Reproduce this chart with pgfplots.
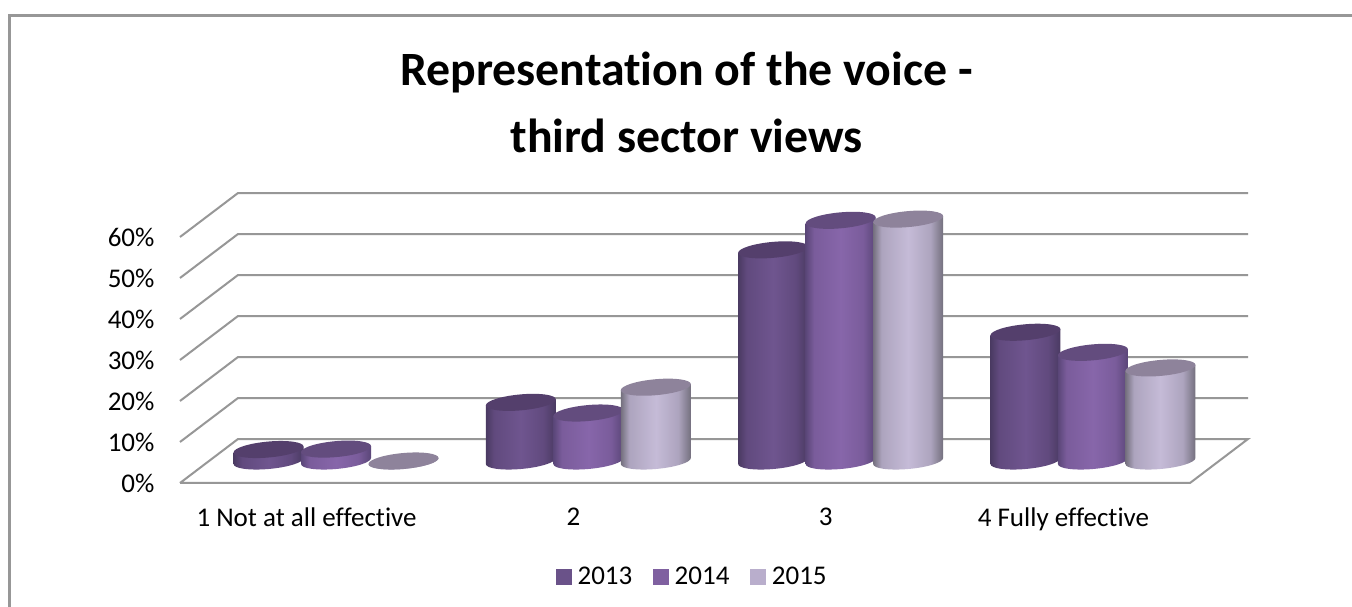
\documentclass[border=0pt]{standalone}
\usepackage{fontspec}
\setmainfont[Ligatures=NoCommon]{Carlito}
\usepackage{pgfplots}
\usepackage{pgfplotstable}
\pgfplotsset{compat=1.18}

\definecolor{cylAe}{HTML}{4A3A62}\definecolor{cylAs}{HTML}{614A7E}\definecolor{cylAm}{HTML}{6F558F}\definecolor{capA}{HTML}{543F6C}
\definecolor{cylBe}{HTML}{5A4678}\definecolor{cylBs}{HTML}{7A5C9B}\definecolor{cylBm}{HTML}{8766AA}\definecolor{capB}{HTML}{634C7E}
\definecolor{cylCe}{HTML}{74707E}\definecolor{cylCs}{HTML}{ADA4BE}\definecolor{cylCm}{HTML}{C5BBD7}\definecolor{capC}{HTML}{8E839B}
\definecolor{keyA}{HTML}{6A5289}\definecolor{keyB}{HTML}{7F60A0}\definecolor{keyC}{HTML}{B9AECC}
\definecolor{gridgrey}{HTML}{979797}

% body shadings: the path's bounding box occupies 25bp to 75bp
\pgfdeclarehorizontalshading{cylA}{100bp}{color(0bp)=(cylAe); color(25bp)=(cylAe); color(31bp)=(cylAs); color(50bp)=(cylAm); color(66bp)=(cylAs); color(75bp)=(cylAe); color(100bp)=(cylAe)}
\pgfdeclarehorizontalshading{cylB}{100bp}{color(0bp)=(cylBe); color(25bp)=(cylBe); color(31bp)=(cylBs); color(50bp)=(cylBm); color(66bp)=(cylBs); color(75bp)=(cylBe); color(100bp)=(cylBe)}
\pgfdeclarehorizontalshading{cylC}{100bp}{color(0bp)=(cylCe); color(25bp)=(cylCe); color(31bp)=(cylCs); color(50bp)=(cylCm); color(66bp)=(cylCs); color(75bp)=(cylCe); color(100bp)=(cylCe)}

% one cylinder, drawn from its top centre down to the floor
\newcommand{\cylinder}[2]{%
  \pgfmathsetmacro{\cylh}{\barval*4.1}%
  \shade[shading=#1, draw=none]
    (-35pt,-3pt-\cylh pt)
    .. controls (-35pt,-7.42pt-\cylh pt) and (-19.33pt,-9.66pt-\cylh pt) .. (0pt,-8pt-\cylh pt)
    .. controls (19.33pt,-6.34pt-\cylh pt) and (35pt,-1.42pt-\cylh pt) .. (35pt,3pt-\cylh pt)
    -- (35pt,3pt) -- (-35pt,-3pt) -- cycle;
  \fill[#2, draw=none]
    (-35pt,-3pt)
    .. controls (-35pt,-7.42pt) and (-19.33pt,-9.66pt) .. (0pt,-8pt)
    .. controls (19.33pt,-6.34pt) and (35pt,-1.42pt) .. (35pt,3pt)
    .. controls (35pt,7.42pt) and (19.33pt,9.66pt) .. (0pt,8pt)
    .. controls (-19.33pt,6.34pt) and (-35pt,1.42pt) .. (-35pt,-3pt) -- cycle;
}
\pgfdeclareplotmark{blank}{}

\pgfplotstableread{
x      share
-0.2675 2.8
0.7325  14.3
1.7325  51.5
2.7325  31.4
}\seriesA
\pgfplotstableread{
x      share
0.0    2.9
1.0    11.7
2.0    58.7
3.0    26.5
}\seriesB
\pgfplotstableread{
x      share
0.2675 0
1.2675 18
2.2675 59
3.2675 22.7
}\seriesC

\pgfplotsset{
  chartframe/.style={
    scale only axis, width=1010pt, height=246pt,
    xmin=-0.559, xmax=3.444, ymin=0, ymax=60,
    clip=false,
  },
  cylseries/.style={
    only marks, scatter, mark=blank,
    visualization depends on={y \as \barval},
    legend image code/.code={\fill[#1] (0pt,-7.5pt) rectangle (15pt,7.5pt);},
  },
}

\begin{document}
\begin{tikzpicture}[x=1pt,y=1pt]
\useasboundingbox (0,0) rectangle (1352,607);
\fill[white] (0,0) rectangle (1352,607);
% outer chart border
\draw[color=gridgrey,line width=2.2pt] (9.5,-5) -- (9.5,591.5) -- (1360,591.5);

% walls, floor and the percentage scale
\begin{axis}[chartframe, at={(180pt,124pt)}, anchor=south west,
    axis line style={draw=none}, tick style={draw=none},
    ytick={0,10,20,30,40,50,60},
    yticklabel={\pgfmathparse{int(\tick)}\pgfmathresult\%},
    yticklabel style={font=\fontsize{27}{27}\selectfont, anchor=east,
      text height=17pt, text depth=0pt, xshift=-22pt, yshift=-1pt},
    xtick={0,1,2,3},
    xticklabels={\kern-29pt 1 Not at all effective,2,3,\kern-29pt 4 Fully effective},
    xticklabel style={font=\fontsize{27}{27}\selectfont, yshift=-21pt},
    title={Representation of the voice -\\third sector views},
    title style={font=\fontsize{47.8}{67}\selectfont\bfseries, align=center,
      at={(rel axis cs:0.5015,1.521)}, anchor=center},
  ]
  \pgfplotsinvokeforeach{10,20,30,40,50,60}{
    \addplot[color=gridgrey, line width=2pt, forget plot]
      coordinates {(-0.559,#1) (-0.329,#1+10.73) (3.674,#1+10.73)};
  }
  \addplot[color=gridgrey, line width=2pt, forget plot]
    coordinates {(-0.559,0) (3.444,0) (3.674,10.73) (-0.329,10.73) (-0.559,0)};
\end{axis}

% cylinders stand midway across the floor
\begin{axis}[chartframe, at={(195pt,146pt)}, anchor=south west,
    hide axis,
    legend columns=3,
    legend style={draw=none, fill=none, at={(rel axis cs:0.4925,-0.4715)}, anchor=center,
      font=\fontsize{27}{27}\selectfont,
      /tikz/every odd column/.append style={column sep=4pt},
      /tikz/every even column/.append style={column sep=19pt}},
  ]
  \addplot[cylseries=keyA, scatter/@pre marker code/.code={\cylinder{cylA}{capA}}, scatter/@post marker code/.code={}]
    table[x=x,y=share] {\seriesA};
  \addlegendentry{2013}
  \addplot[cylseries=keyB, scatter/@pre marker code/.code={\cylinder{cylB}{capB}}, scatter/@post marker code/.code={}]
    table[x=x,y=share] {\seriesB};
  \addlegendentry{2014}
  \addplot[cylseries=keyC, scatter/@pre marker code/.code={\cylinder{cylC}{capC}}, scatter/@post marker code/.code={}]
    table[x=x,y=share] {\seriesC};
  \addlegendentry{2015}
\end{axis}
\end{tikzpicture}
\end{document}
